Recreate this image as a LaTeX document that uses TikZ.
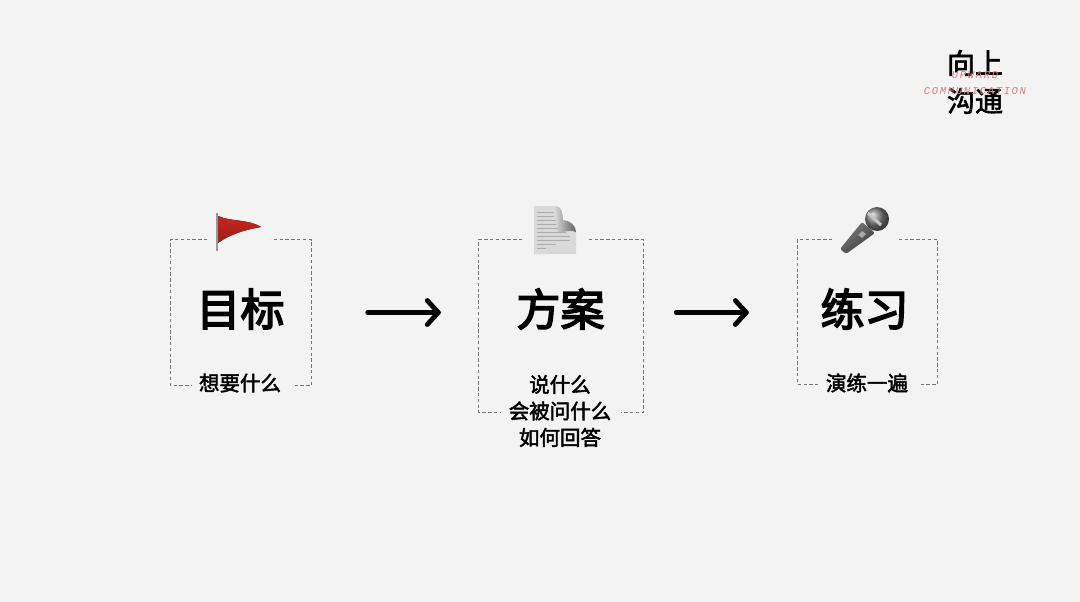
\documentclass[tikz,border=0pt]{standalone}
\usepackage{fontspec}
\setmainfont{Noto Sans CJK SC}
\newfontfamily\medfont[FakeBold=2.2]{Noto Sans CJK SC}
\newfontfamily\heavyfont[FakeBold=3.6]{Noto Sans CJK SC}
\newfontfamily\latinhand[LetterSpace=16]{Liberation Mono}
\usetikzlibrary{calc,positioning}
\definecolor{paper}{HTML}{F3F3F3}
\definecolor{inkred}{HTML}{D67F7F}
\definecolor{flagred}{HTML}{C8261C}
\tikzset{
  framebox/.style={inner sep=0pt},
  dashline/.style={draw=black!55,line width=1pt,dash pattern=on 3.4pt off 2.4pt},
  titletext/.style={font=\fontsize{44}{44}\selectfont\heavyfont,text=black,inner sep=0pt},
  subtext/.style={font=\fontsize{20.5}{26.5}\selectfont\medfont,text=black,align=center,inner sep=0pt},
  logotext/.style={font=\fontsize{28}{38}\selectfont\medfont,text=black,align=center,inner sep=0pt},
  redtext/.style={font=\fontsize{10.5}{10.5}\selectfont\latinhand\itshape,text=inkred,inner sep=0pt},
  flowarrow/.style={line width=4.8pt,line cap=round,line join=round},
}

\begin{document}
\begin{tikzpicture}[x=1pt,y=-1pt]

\fill[paper] (0,0) rectangle (1080,602);
\useasboundingbox (0,0) rectangle (1080,602);

% logo
\node[logotext] (logo) at (975,82) {向上\\沟通};
\node[redtext] (logoup) at (975,75) {UPWARD};
\node[redtext] (logocomm) at (975,91) {COMMUNICATION};

% frames
\foreach \name/\cx/\cy/\boxw/\boxh/\gapa/\gapb/\gapc/\gapd in
  {goalbox/241/312.5/141/145/37/38/22/19,
   planbox/561/326/165/172/44/55/22/23,
   drillbox/867.5/312/140/144/35/39/21/19}
{
  \node[framebox,minimum width=\boxw pt,minimum height=\boxh pt] (\name) at (\cx,\cy) {};
  \draw[dashline] ($(\name.north west)+(\gapa,0)$) -- (\name.north west) -- (\name.south west) -- +(\gapc,0);
  \draw[dashline] ($(\name.north east)-(\gapb,0)$) -- (\name.north east) -- (\name.south east) -- +(-\gapd,0);
}

% titles
\node[titletext] (goal) at (240.5,309) {目标};
\node[titletext] (plan) at (560.5,309) {方案};
\node[titletext] (drill) at (864.5,309) {练习};

% texts under the titles
\node[subtext] (goalsub) at (240,383) {想要什么};
\node[subtext] (plansub) at (560,411) {说什么\\会被问什么\\如何回答};
\node[subtext] (drillsub) at (867,383) {演练一遍};

% arrows
\draw[flowarrow,shorten <=56pt,shorten >=40pt] (goalbox.east) -- (goalbox.east -| planbox.west)
  coordinate[pos=1,xshift=-40pt] (tipa);
\draw[flowarrow] ($(tipa)+(-11,-12)$) -- (tipa) -- ($(tipa)+(-11,12)$);
\draw[flowarrow,shorten <=32.5pt,shorten >=51pt] (planbox.east |- goalbox) -- (drillbox.west |- goalbox)
  coordinate[pos=1,xshift=-51pt] (tipb);
\draw[flowarrow] ($(tipb)+(-11,-12)$) -- (tipb) -- ($(tipb)+(-11,12)$);

% flag
\draw[line width=1.6pt,black!40] (217,213) -- (217,251);
\fill[top color=flagred,bottom color=flagred!78!black]
  (218,216) .. controls (232,222) and (248,219) .. (261,227)
  .. controls (248,229) and (230,234) .. (218,243) -- cycle;

% document
\fill[black!15] (534,206) -- (556,206) .. controls (561,206) and (559,222) .. (565,222)
  .. controls (571,222) and (576,224) .. (576,232) -- (576,254) -- (534,254) -- cycle;
\foreach \yy/\xx in {212/554,216/554,220/556,224/556,228/558,232/566,236/570,240/570,244/556,248/546}
  \draw[black!32,line width=.6pt] (537,\yy) -- (\xx,\yy);
\shade[left color=black!18,right color=black!62] (556,206) .. controls (561,206) and (563,213) .. (563,220)
  .. controls (570,220) and (576,226) .. (576,232) .. controls (572,229) and (562,233) .. (558,232)
  -- cycle;

% microphone
\shade[left color=black!50,right color=black!78,rounded corners=2pt,shading angle=40]
  (840,249) -- (862,222) -- (875,233) -- (846,254) -- cycle;
\fill[black!35] (858,235) -- (862,231) -- (866,234) -- (862,238) -- cycle;
\shade[ball color=black!50] (877,219) circle (12);
\draw[black!22,line width=3pt] (868,213) -- (881,225);

\end{tikzpicture}
\end{document}
